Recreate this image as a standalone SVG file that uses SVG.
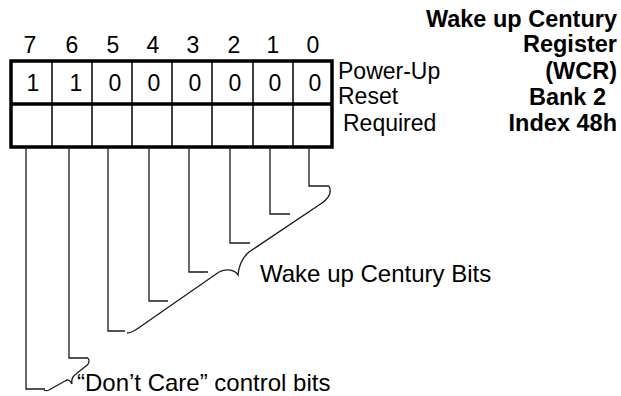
<svg xmlns="http://www.w3.org/2000/svg" width="621" height="396" viewBox="0 0 621 396" font-family="'Liberation Sans', Arial, Helvetica, sans-serif">
<style>
text{font-family:'Liberation Sans',Arial,Helvetica,sans-serif;fill:#000}
.lbl{font-size:23px}
.big{font-size:24px}
.dig{font-size:23px;text-anchor:middle}
.ttl{font-size:23.5px;font-weight:bold;text-anchor:end}
.thick{fill:none;stroke:#000;stroke-width:3.5}
.div{stroke:#000;stroke-width:1.5}
.ln{fill:none;stroke:#1a1a1a;stroke-width:1.3}
</style>
<rect width="621" height="396" fill="#fff"/>
<g id="title">
<text class="ttl" x="617" y="27">Wake up Century</text>
<text class="ttl" x="617" y="52">Register</text>
<text class="ttl" x="617" y="79">(WCR)</text>
<text class="ttl" x="606" y="105">Bank 2</text>
<text class="ttl" x="617" y="131">Index 48h</text>
</g>
<g id="bitnumbers">
<text class="dig" x="30" y="53">7</text>
<text class="dig" x="72" y="53">6</text>
<text class="dig" x="113" y="53">5</text>
<text class="dig" x="153" y="53">4</text>
<text class="dig" x="193" y="53">3</text>
<text class="dig" x="234" y="53">2</text>
<text class="dig" x="273" y="53">1</text>
<text class="dig" x="313" y="53">0</text>
</g>
<g id="register">
<rect class="thick" x="11" y="61" width="321" height="86"/>
<line class="thick" x1="11" y1="104" x2="332" y2="104"/>
<line class="div" x1="52" y1="61" x2="52" y2="147"/>
<line class="div" x1="92" y1="61" x2="92" y2="147"/>
<line class="div" x1="132" y1="61" x2="132" y2="147"/>
<line class="div" x1="172" y1="61" x2="172" y2="147"/>
<line class="div" x1="212" y1="61" x2="212" y2="147"/>
<line class="div" x1="253" y1="61" x2="253" y2="147"/>
<line class="div" x1="293" y1="61" x2="293" y2="147"/>
<text class="dig" x="33" y="91">1</text>
<text class="dig" x="76" y="91">1</text>
<text class="dig" x="115" y="91">0</text>
<text class="dig" x="154" y="91">0</text>
<text class="dig" x="195" y="91">0</text>
<text class="dig" x="235" y="91">0</text>
<text class="dig" x="275" y="91">0</text>
<text class="dig" x="315" y="91">0</text>
</g>
<g id="rowlabels">
<text class="lbl" x="338" y="79">Power-Up</text>
<text class="lbl" x="338" y="104">Reset</text>
<text class="lbl" x="343" y="131">Required</text>
</g>
<g id="connectors">
<path class="ln" d="M26,147 V389 H45"/>
<path class="ln" d="M69,147 V358 H88"/>
<path class="ln" d="M108,147 V331 H125"/>
<path class="ln" d="M149,147 V301 H168"/>
<path class="ln" d="M189,147 V272 H208"/>
<path class="ln" d="M230,147 V243 H250"/>
<path class="ln" d="M270,147 V214 H290"/>
<path class="ln" d="M309,147 V186 H329"/>
<path class="ln" d="M329,186 C332,192 329,198 322,203 L249,252 C243,257 239,264 238,275 C235,270 227,268 219,272 L137,329 C134,331 131,333 127,333"/>
<path class="ln" d="M88,358 C90,361 89,364 86,366 L76,374 C73,376 71,379 72,384 C70,380 68,379 65,381 L49,390 C47,391 46,391 44,390"/>
</g>
<g id="braceLabels">
<text class="big" x="260" y="282">Wake up Century Bits</text>
<text class="big" x="77" y="391">“Don’t Care” control bits</text>
</g>
</svg>
